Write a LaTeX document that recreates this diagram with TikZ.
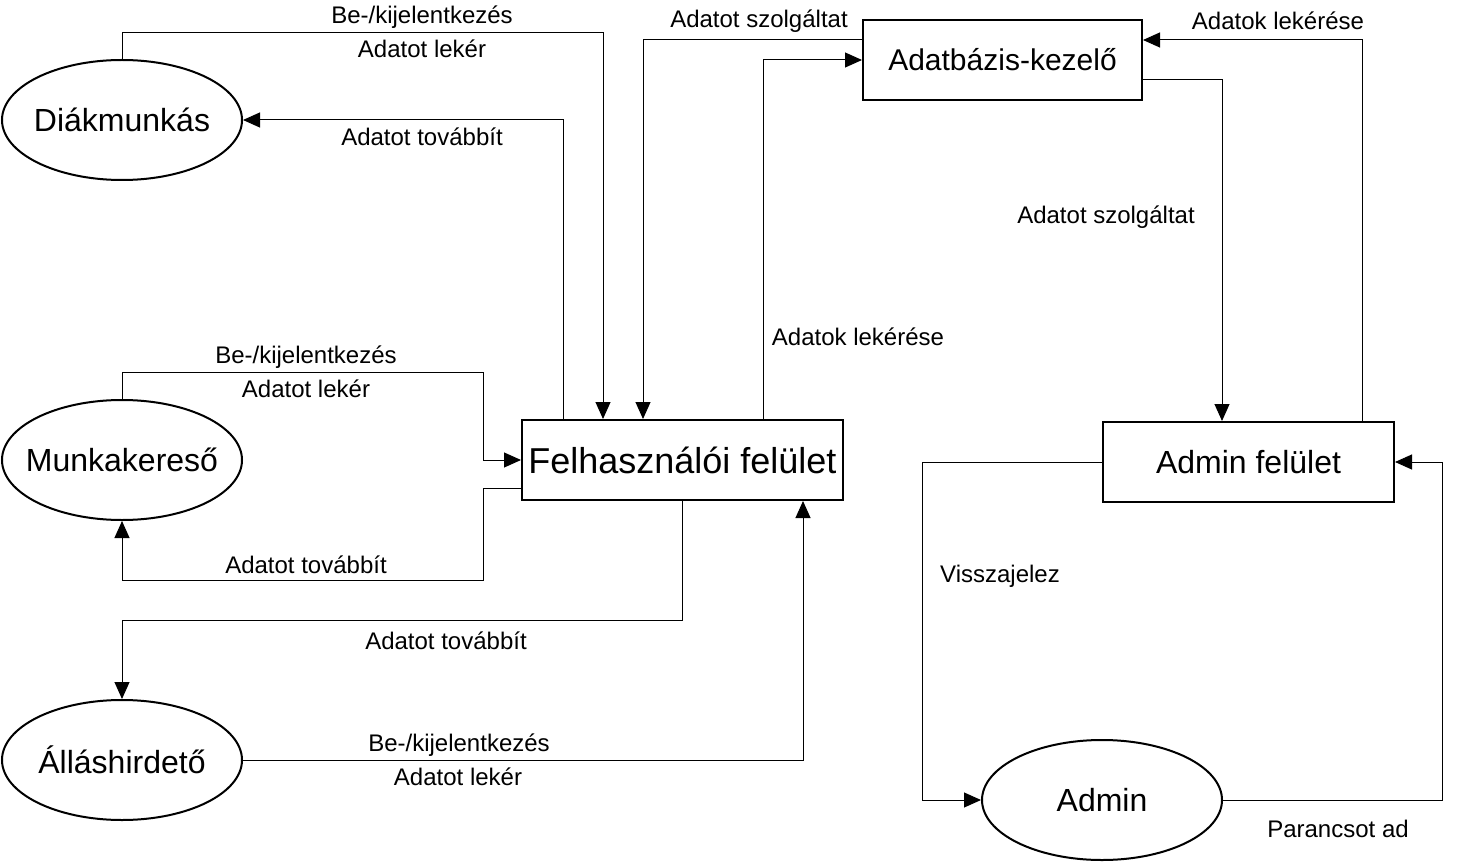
\documentclass[tikz,border=0pt]{standalone}
\usepackage{fontspec}
\setmainfont{Liberation Sans}
\usetikzlibrary{shapes,arrows.meta,positioning,calc}
\newcommand{\actorname}[1]{\makebox[0pt]{#1}}

\begin{document}
\begin{tikzpicture}[
    x=0.5pt, y=-0.5pt,
    box/.style={draw, line width=1pt, minimum width=#1, minimum height=40pt, inner sep=0pt, font=\fontsize{16}{18}\selectfont},
    actor/.style={draw, ellipse, line width=1pt, minimum width=120pt, minimum height=60pt, inner sep=0pt, font=\fontsize{16}{18}\selectfont},
    flow/.style={line width=0.5pt, -{Triangle[length=8.5pt,width=7.5pt]}},
    txt/.style={font=\fontsize{12}{14}\selectfont, inner sep=0pt},
]
    \useasboundingbox (0,0) rectangle (1477,866);
    % actors on the left
    \node[actor] (dm) at (122,120) {\actorname{Diákmunkás}};
    \node[actor] (mk) at (122,460) {\actorname{Munkakereső}};
    \node[actor] (ah) at (122,760) {\actorname{Álláshirdető}};
    \node[actor] (ad) at (1102,800) {\actorname{Admin}};
    % system boxes
    \node[box=160.5pt, font=\fontsize{18}{20}\selectfont] (felh) at (682.5,460) {Felhasználói felület};
    \node[box=139.5pt, font=\fontsize{15}{17}\selectfont] (db) at (1002.5,60) {Adatbázis-kezelő};
    \node[box=145.5pt] (af) at (1248.5,462) {Admin felület};
    % Diákmunkás <-> felület
    \draw[flow] (dm.north) |- (603,33) -- (603,0 |- felh.north);
    \node[txt] (dm1) at (422,17) {Be-/kijelentkezés};
    \node[txt] (dm2) at (422,49) {Adatot lekér};
    \draw[flow] (563,0 |- felh.north) |- (dm.east);
    \node[txt] (dm3) at (422,137) {Adatot továbbít};
    % felület <-> adatbázis
    \draw[flow] (db.west |- 0,40) -| (643,0 |- felh.north);
    \node[txt] (db1) at (759,21) {Adatot szolgáltat};
    \draw[flow] (763,0 |- felh.north) |- (db.west);
    \node[txt] (db2) at (858,337) {Adatok lekérése};
    % Munkakereső <-> felület
    \draw[flow] (mk.north) |- (483,372) |- (felh.west);
    \node[txt] (mk1) at (306,357) {Be-/kijelentkezés};
    \node[txt] (mk2) at (306,389) {Adatot lekér};
    \draw[flow] (felh.west |- 0,488) -| (483,580) -| (mk.south);
    \node[txt] (mk3) at (306,565) {Adatot továbbít};
    % Álláshirdető <-> felület
    \draw[flow] (felh.south) |- (122,620) -- (ah.north);
    \node[txt] (ah1) at (446,641) {Adatot továbbít};
    \draw[flow] (ah.east) -| (803,0 |- felh.south);
    \node[txt] (ah2) at (459,745) {Be-/kijelentkezés};
    \node[txt] (ah3) at (458,777) {Adatot lekér};
    % adatbázis <-> admin felület
    \draw[flow] (db.east |- 0,80) -| (1222,0 |- af.north);
    \node[txt] (af1) at (1106,217) {Adatot szolgáltat};
    \draw[flow] (1362,0 |- af.north) |- (db.east |- 0,40);
    \node[txt] (af2) at (1278,21) {Adatok lekérése};
    % Admin <-> admin felület
    \draw[flow] (af.west) -| (922,800) -- (ad.west);
    \node[txt] (ad1) at (1000,576) {Visszajelez};
    \draw[flow] (ad.east) -| (1442,462) -- (af.east);
    \node[txt] (ad2) at (1338,829) {Parancsot ad};
\end{tikzpicture}
\end{document}
